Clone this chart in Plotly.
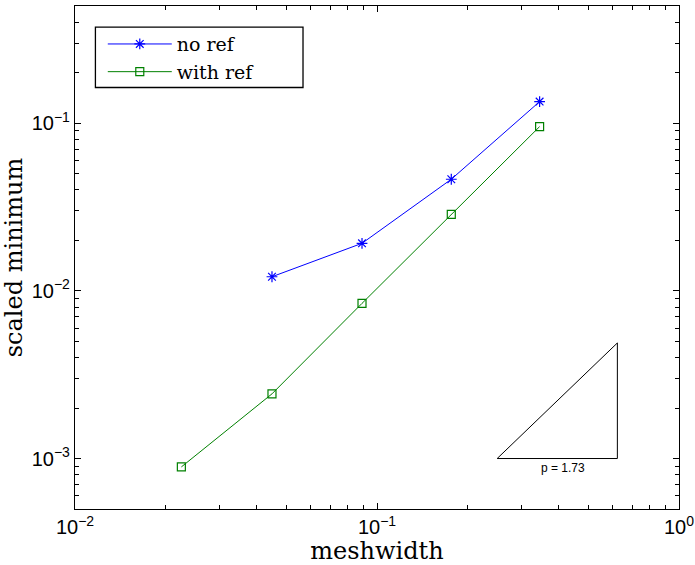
import math
import plotly.graph_objects as go

# data
x_noref = [0.0449, 0.0892, 0.1762, 0.3455]
y_noref = [0.01214, 0.01921, 0.04631, 0.1345]
x_withref = [0.0225, 0.0449, 0.0892, 0.1762, 0.3455]
y_withref = [0.000891, 0.00243, 0.00842, 0.02862, 0.0954]

# axis ticks
x_tickvals = [0.01, 0.1, 1]
x_ticktext = ["10<sup>−2</sup>", "10<sup>−1</sup>", "10<sup>0</sup>"]
y_tickvals = [0.001, 0.01, 0.1]
y_ticktext = ["10<sup>−3</sup>", "10<sup>−2</sup>", "10<sup>−1</sup>"]

# slope triangle (annotation)
tri_x = [0.25, 0.625, 0.625, 0.25]
tri_y = [0.001, 0.001, 0.00489, 0.001]
slope_label = "p = 1.73"

serif = "DejaVu Serif"
sans = "Liberation Sans"

fig = go.Figure()
fig.add_trace(go.Scatter(
    x=x_noref, y=y_noref, mode="lines+markers", name="no ref",
    line=dict(color="#0000ff", width=1),
    marker=dict(symbol="asterisk-open", size=9, color="#0000ff",
                line=dict(color="#0000ff", width=1.2)),
))
fig.add_trace(go.Scatter(
    x=x_withref, y=y_withref, mode="lines+markers", name="with ref",
    line=dict(color="#008000", width=1),
    marker=dict(symbol="square-open", size=8, color="#008000",
                line=dict(color="#008000", width=1.2)),
))
fig.add_trace(go.Scatter(
    x=tri_x, y=tri_y, mode="lines", showlegend=False, hoverinfo="skip",
    line=dict(color="black", width=1),
))
fig.add_annotation(
    x=(math.log10(tri_x[0]) + math.log10(tri_x[1])) / 2 + 0.02,
    y=math.log10(tri_y[0]), yshift=-9,
    text=slope_label, showarrow=False, xref="x", yref="y",
    font=dict(family=sans, size=12, color="black"),
)

# legend frame (MATLAB-style box, wider than the entries)
fig.add_shape(type="rect", xref="paper", yref="paper",
              x0=0.0338, x1=0.3775, y0=0.838, y1=0.958,
              line=dict(color="black", width=1.3), fillcolor="white", layer="above")

axis_common = dict(
    type="log", showgrid=False, zeroline=False,
    showline=True, linecolor="black", linewidth=1.3, mirror="allticks",
    ticks="inside", ticklen=6, tickwidth=1, tickcolor="black",
    tickmode="array",
    tickfont=dict(family=sans, size=20, color="black"),
    minor=dict(ticks="inside", ticklen=4, tickwidth=1, tickcolor="black",
               dtick="D1", showgrid=False),
    automargin=False,
)

fig.update_xaxes(range=[-2, 0], tickvals=x_tickvals, ticktext=x_ticktext,
                 title=dict(text="meshwidth", font=dict(family=serif, size=24, color="black"),
                            standoff=10),
                 **axis_common)
fig.update_yaxes(range=[-3.30103, -0.30103], tickvals=y_tickvals, ticktext=y_ticktext,
                 title=dict(text="scaled minimum", font=dict(family=serif, size=24, color="black"),
                            standoff=2),
                 **axis_common)

fig.update_layout(
    width=695, height=565,
    margin=dict(l=75, r=16, t=6, b=56),
    paper_bgcolor="white", plot_bgcolor="white",
    legend=dict(x=0.046, y=0.962, xanchor="left", yanchor="top",
                borderwidth=0, bgcolor="rgba(0,0,0,0)",
                font=dict(family=serif, size=19, color="black"),
                itemwidth=64),
)

fig.write_html("out.html", config={"displayModeBar": False},
               post_script="document.body.style.margin='0';")
